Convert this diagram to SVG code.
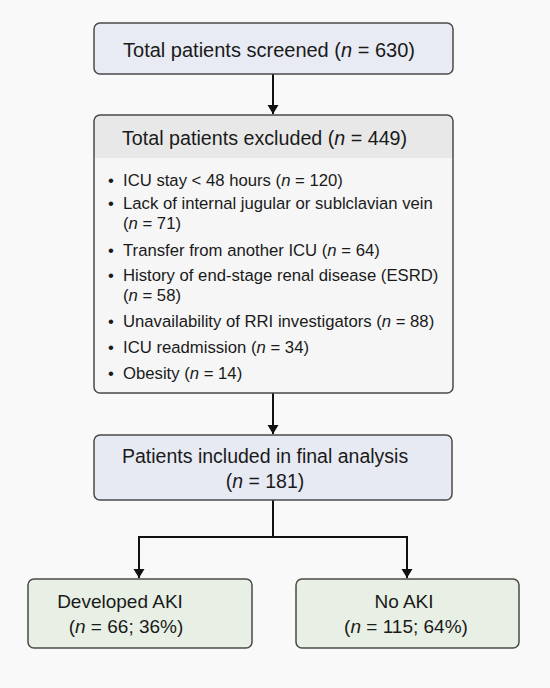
<svg xmlns="http://www.w3.org/2000/svg" width="550" height="688" viewBox="0 0 550 688">
<defs>
<marker id="ah" markerWidth="12" markerHeight="12" refX="9" refY="6" orient="auto" markerUnits="userSpaceOnUse" viewBox="0 0 12 12">
<path d="M0,0.5 L9,6 L0,11.5 Z" fill="#111"/>
</marker>
<clipPath id="c2"><rect x="94" y="115" width="359" height="278" rx="6"/></clipPath>
</defs>
<style>
text{font-family:"Liberation Sans",Arial,sans-serif;fill:#1a1a1a}
.box{stroke:#4a4a4a;stroke-width:1.5}
.t20{font-size:20px}
.t19{font-size:19.5px}
.t16{font-size:16.7px}
.conn{stroke:#111;stroke-width:2;fill:none}
</style>
<rect width="550" height="688" fill="#f9f9f9"/>
<g id="connectors">
<line class="conn" x1="273" y1="74" x2="273" y2="114" marker-end="url(#ah)"/>
<line class="conn" x1="273" y1="393" x2="273" y2="434" marker-end="url(#ah)"/>
<path class="conn" d="M273,500 V537"/>
<path class="conn" d="M139,537 H407"/>
<line class="conn" x1="139" y1="536" x2="139" y2="578" marker-end="url(#ah)"/>
<line class="conn" x1="407" y1="536" x2="407" y2="578" marker-end="url(#ah)"/>
</g>
<g id="screened">
<rect class="box" x="94" y="23" width="359" height="51" rx="6" fill="#e8ebf3"/>
<text class="t20" x="269" y="57" text-anchor="middle">Total patients screened (<tspan font-style="italic">n</tspan> = 630)</text>
</g>
<g id="excluded">
<g clip-path="url(#c2)">
<rect x="94" y="115" width="359" height="278" fill="#f6f6f6"/>
<rect x="94" y="115" width="359" height="43" fill="#e8e8e8"/>
</g>
<rect class="box" x="94" y="115" width="359" height="278" rx="6" fill="none"/>
<text class="t19" x="122" y="145" style="font-size:19.7px">Total patients excluded (<tspan font-style="italic">n</tspan> = 449)</text>
<g class="t16">
<text x="108" y="186">•</text><text x="123" y="186">ICU stay &lt; 48 hours (<tspan font-style="italic">n</tspan> = 120)</text>
<text x="108" y="209">•</text><text x="123" y="209">Lack of internal jugular or sublclavian vein</text>
<text x="123" y="229">(<tspan font-style="italic">n</tspan> = 71)</text>
<text x="108" y="256">•</text><text x="123" y="256">Transfer from another ICU (<tspan font-style="italic">n</tspan> = 64)</text>
<text x="108" y="281">•</text><text x="123" y="281">History of end-stage renal disease (ESRD)</text>
<text x="123" y="301">(<tspan font-style="italic">n</tspan> = 58)</text>
<text x="108" y="327">•</text><text x="123" y="327">Unavailability of RRI investigators (<tspan font-style="italic">n</tspan> = 88)</text>
<text x="108" y="353">•</text><text x="123" y="353">ICU readmission (<tspan font-style="italic">n</tspan> = 34)</text>
<text x="108" y="379">•</text><text x="123" y="379">Obesity (<tspan font-style="italic">n</tspan> = 14)</text>
</g>
</g>
<g id="included">
<rect class="box" x="94" y="435" width="358" height="65" rx="6" fill="#e7eaf3"/>
<text class="t19" x="122" y="463">Patients included in final analysis</text>
<text class="t19" x="265" y="488" text-anchor="middle">(<tspan font-style="italic">n</tspan> = 181)</text>
</g>
<g id="aki">
<rect class="box" x="28" y="579" width="224" height="69" rx="6" fill="#e8efe4"/>
<text class="t19" x="120" y="608" text-anchor="middle" style="font-size:19px">Developed AKI</text>
<text class="t19" x="126" y="633" text-anchor="middle" style="font-size:19px">(<tspan font-style="italic">n</tspan> = 66; 36%)</text>
</g>
<g id="noaki">
<rect class="box" x="296" y="579" width="223" height="69" rx="6" fill="#e8efe4"/>
<text class="t19" x="404" y="608" text-anchor="middle" style="font-size:19px">No AKI</text>
<text class="t19" x="406" y="633" text-anchor="middle" style="font-size:19px">(<tspan font-style="italic">n</tspan> = 115; 64%)</text>
</g>
</svg>
